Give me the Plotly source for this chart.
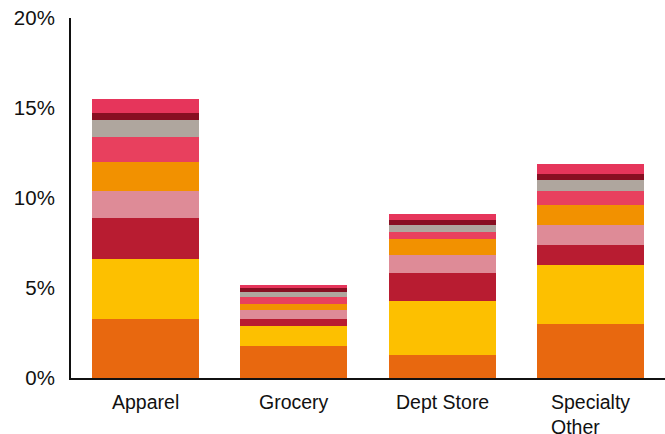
import plotly.graph_objects as go

categories = ["Apparel", "Grocery", "Dept Store", "Specialty Other"]
category_labels = ["Apparel", "Grocery", "Dept Store", "Specialty<br>Other"]

# stacked segments, bottom to top (percent)
seg1 = [3.28, 1.78, 1.28, 3.00]
seg2 = [3.33, 1.11, 3.00, 3.28]
seg3 = [2.28, 0.39, 1.55, 1.11]
seg4 = [1.50, 0.50, 1.00, 1.11]
seg5 = [1.61, 0.33, 0.89, 1.11]
seg6 = [1.39, 0.39, 0.39, 0.78]
seg7 = [0.94, 0.28, 0.39, 0.61]
seg8 = [0.39, 0.22, 0.28, 0.33]
seg9 = [0.78, 0.17, 0.33, 0.56]

series = [seg1, seg2, seg3, seg4, seg5, seg6, seg7, seg8, seg9]
names = [f"Segment {i+1}" for i in range(len(series))]
colors = ["#E8680F", "#FDC000", "#B81C31", "#DE8B97", "#F29100",
          "#E8405E", "#AFA69E", "#880F22", "#E6355B"]

y_ticks = [0, 5, 10, 15, 20]
y_tick_labels = ["0%", "5%", "10%", "15%", "20%"]

fig = go.Figure()
for vals, name, col in zip(series, names, colors):
    fig.add_trace(go.Bar(x=categories, y=vals, name=name,
                         marker=dict(color=col, line=dict(width=0))))

font_family = "Liberation Sans, Arial, Helvetica, sans-serif"

for cat, lab in zip(categories, category_labels):
    fig.add_annotation(x=cat, y=0, xref="x", yref="paper", text=lab,
                       showarrow=False, yanchor="top", xanchor="center",
                       align="left", yshift=-11,
                       font=dict(family=font_family, size=19.5, color="#111"))

fig.update_layout(
    barmode="stack",
    bargap=0.28,
    width=665, height=434,
    margin=dict(l=71, r=0, t=18, b=56),
    paper_bgcolor="white", plot_bgcolor="white",
    showlegend=False,
    font=dict(family=font_family, size=20, color="#111"),
    xaxis=dict(showticklabels=False, showline=True, linecolor="#111",
               linewidth=2, ticks="", showgrid=False, zeroline=False),
    yaxis=dict(range=[0, 20], tickmode="array", tickvals=y_ticks,
               ticktext=y_tick_labels,
               showline=True, linecolor="#111", linewidth=2, ticks="",
               showgrid=False, zeroline=False, ticklabelstandoff=10,
               tickfont=dict(family=font_family, size=20.5, color="#111")),
)

fig.write_html("out.html")
